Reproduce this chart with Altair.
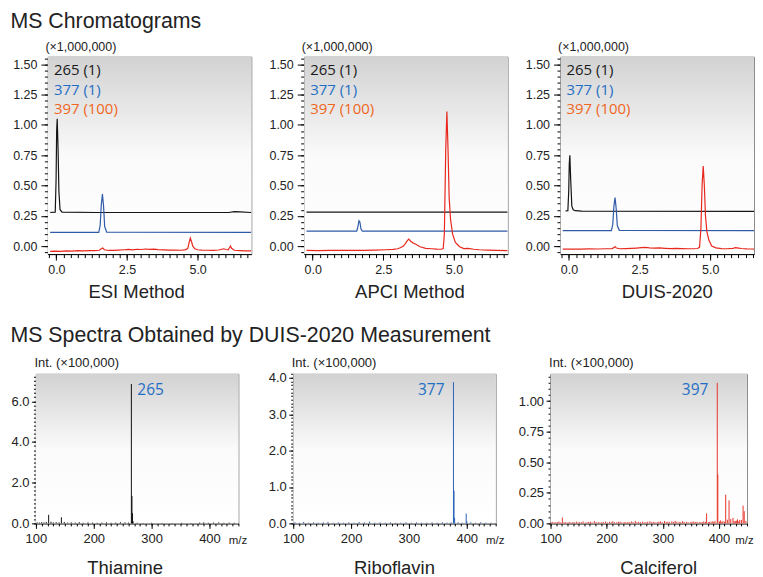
import altair as alt
import pandas as pd

FONT = "Liberation Sans"
FONT2 = "Open Sans"

# ---------------- MS chromatogram traces (time [min], intensity x1,000,000) ----------------
esi_265_t = [-0.22, -0.04, -0.01, 0.01, 0.03, 0.06, 0.09, 0.13, 0.2, 1.4, 6.1, 6.3, 6.5, 6.9]
esi_265_v = [0.277, 0.28, 0.55, 0.95, 1.05, 0.8, 0.45, 0.3, 0.28, 0.277, 0.277, 0.285, 0.283, 0.277]
esi_377_t = [-0.22, 1.5, 1.55, 1.59, 1.63, 1.67, 1.71, 1.78, 6.9]
esi_377_v = [0.113, 0.114, 0.17, 0.34, 0.43, 0.33, 0.16, 0.116, 0.113]
esi_397_t = [-0.22, -0.05, 0.15, 0.35, 0.55, 0.75, 0.95, 1.15, 1.35, 1.52, 1.6, 1.64, 1.7, 1.85,
             2.0, 2.2, 2.4, 2.55, 2.7, 2.85, 3.0, 3.15, 3.3, 3.45, 3.6, 3.8, 4.0, 4.2, 4.4, 4.55,
             4.65, 4.7, 4.74, 4.78, 4.83, 4.9, 5.0, 5.15, 5.35, 5.55, 5.75, 5.85, 5.92, 6.0, 6.08,
             6.13, 6.16, 6.2, 6.3, 6.5, 6.7, 6.9]
esi_397_v = [-0.044, -0.042, -0.043, -0.040, -0.041, -0.038, -0.039, -0.037, -0.038, -0.034,
             -0.020, -0.016, -0.030, -0.036, -0.035, -0.033, -0.030, -0.027, -0.031, -0.026,
             -0.028, -0.024, -0.027, -0.025, -0.029, -0.031, -0.033, -0.032, -0.034, -0.031,
             -0.020, 0.03, 0.066, 0.04, 0.0, -0.022, -0.030, -0.033, -0.034, -0.036, -0.032,
             -0.026, -0.022, -0.028, -0.030, -0.012, 0.0, -0.018, -0.034, -0.037, -0.039, -0.040]

apci_265_t = [-0.22, 6.9]
apci_265_v = [0.28, 0.28]
apci_377_t = [-0.22, 1.56, 1.6, 1.64, 1.67, 1.71, 1.76, 6.9]
apci_377_v = [0.123, 0.123, 0.16, 0.21, 0.20, 0.14, 0.123, 0.123]
apci_397_t = [-0.22, 0.2, 0.6, 1.0, 1.4, 1.8, 2.2, 2.6, 2.85, 3.0, 3.1, 3.2, 3.28, 3.35, 3.4,
              3.47, 3.55, 3.65, 3.8, 4.0, 4.2, 4.4, 4.55, 4.62, 4.66, 4.71, 4.75, 4.79, 4.83,
              4.88, 4.95, 5.05, 5.2, 5.35, 5.5, 5.7, 5.9, 6.2, 6.5, 6.9]
apci_397_v = [-0.036, -0.037, -0.035, -0.036, -0.034, -0.035, -0.033, -0.030, -0.027, -0.022,
              -0.014, -0.002, 0.02, 0.045, 0.057, 0.04, 0.025, 0.015, -0.005, -0.018, -0.022,
              -0.025, -0.026, -0.02, 0.1, 0.8, 1.11, 0.8, 0.4, 0.22, 0.1, 0.03, -0.005, -0.02,
              -0.018, -0.026, -0.030, -0.033, -0.035, -0.037]

duis_265_t = [-0.12, -0.04, -0.01, 0.01, 0.03, 0.06, 0.1, 0.15, 0.22, 0.45, 6.9]
duis_265_v = [0.29, 0.292, 0.45, 0.68, 0.75, 0.55, 0.33, 0.3, 0.292, 0.288, 0.287]
duis_377_t = [-0.22, 1.5, 1.55, 1.59, 1.63, 1.67, 1.71, 1.78, 6.9]
duis_377_v = [0.127, 0.128, 0.18, 0.33, 0.40, 0.31, 0.17, 0.13, 0.127]
duis_397_t = [-0.22, 0.1, 0.4, 0.7, 1.0, 1.3, 1.52, 1.6, 1.63, 1.68, 1.8, 2.0, 2.2, 2.4, 2.55,
              2.7, 2.85, 3.0, 3.2, 3.4, 3.6, 3.8, 4.0, 4.2, 4.4, 4.55, 4.62, 4.67, 4.71, 4.75,
              4.79, 4.83, 4.88, 4.95, 5.05, 5.2, 5.4, 5.6, 5.8, 5.9, 6.0, 6.1, 6.3, 6.5, 6.9]
duis_397_v = [-0.025, -0.024, -0.025, -0.023, -0.024, -0.022, -0.021, -0.012, -0.004, -0.016,
              -0.022, -0.021, -0.019, -0.016, -0.013, -0.011, -0.014, -0.016, -0.015, -0.018,
              -0.020, -0.019, -0.021, -0.022, -0.022, -0.02, -0.01, 0.15, 0.5, 0.66, 0.5, 0.25,
              0.12, 0.05, 0.0, -0.015, -0.02, -0.022, -0.018, -0.013, -0.016, -0.02, -0.023,
              -0.024, -0.025]

series_names = ["265", "377", "397"]
legend_labels = ["265 (1)", "377 (1)", "397 (100)"]
chrom_titles = ["ESI Method", "APCI Method", "DUIS-2020"]

# ---------------- MS spectra (m/z, intensity x100,000) ----------------
thiamine_mz = [102, 106, 110, 114, 118, 122, 126, 130, 135, 140, 144, 149, 155, 161, 168, 175,
               182, 190, 198, 206, 214, 222, 230, 238, 246, 254, 260, 265, 266, 267, 268, 275,
               285, 300, 318, 335, 352, 368, 383, 390, 398, 407, 416, 425, 434, 443]
thiamine_int = [0.05, 0.04, 0.06, 0.05, 0.07, 0.42, 0.08, 0.05, 0.06, 0.05, 0.30, 0.07, 0.04,
                0.05, 0.04, 0.06, 0.03, 0.05, 0.04, 0.03, 0.04, 0.05, 0.03, 0.04, 0.06, 0.05,
                0.04, 6.85, 1.35, 0.50, 0.10, 0.03, 0.02, 0.03, 0.02, 0.02, 0.03, 0.02, 0.04,
                0.05, 0.03, 0.04, 0.05, 0.03, 0.04, 0.03]
riboflavin_mz = [103, 110, 118, 127, 135, 143, 152, 160, 169, 178, 187, 196, 205, 214, 223, 232,
                 241, 250, 259, 268, 277, 286, 295, 304, 313, 322, 331, 340, 349, 358, 366, 373,
                 377, 378, 379, 385, 392, 399, 400, 407, 415, 424, 433, 442]
riboflavin_int = [0.03, 0.02, 0.04, 0.02, 0.03, 0.02, 0.03, 0.04, 0.02, 0.03, 0.02, 0.03, 0.02,
                  0.04, 0.03, 0.05, 0.02, 0.03, 0.02, 0.03, 0.02, 0.02, 0.03, 0.02, 0.03, 0.02,
                  0.02, 0.03, 0.02, 0.03, 0.02, 0.03, 3.88, 0.90, 0.15, 0.03, 0.02, 0.27, 0.06,
                  0.03, 0.02, 0.03, 0.02, 0.02]
calciferol_mz = [101, 104, 107, 109, 112, 115, 118, 121, 124, 127,
                 130, 133, 136, 139, 142, 146, 149, 152, 155, 158,
                 162, 165, 168, 171, 174, 178, 181, 185, 188, 191,
                 194, 198, 201, 205, 208, 211, 214, 218, 221, 224,
                 227, 231, 234, 237, 240, 244, 247, 251, 254, 257,
                 260, 264, 267, 270, 273, 277, 280, 283, 286, 290,
                 293, 296, 299, 303, 306, 309, 312, 316, 319, 322,
                 325, 329, 332, 335, 338, 342, 345, 349, 352, 355,
                 358, 361, 365, 368, 371, 373, 376, 378, 381, 383,
                 386, 389, 391, 393, 397, 398, 401, 403, 405, 407,
                 410, 412, 415, 418, 421, 425, 427, 429, 431, 433,
                 435, 437, 440, 443, 445, 448]
calciferol_int = [0.010, 0.012, 0.006, 0.008, 0.011, 0.015, 0.007, 0.048, 0.009, 0.010,
                  0.006, 0.012, 0.008, 0.008, 0.011, 0.014, 0.007, 0.010, 0.009, 0.016,
                  0.006, 0.009, 0.012, 0.013, 0.008, 0.020, 0.010, 0.011, 0.007, 0.009,
                  0.012, 0.015, 0.008, 0.012, 0.010, 0.018, 0.009, 0.010, 0.013, 0.014,
                  0.008, 0.011, 0.010, 0.009, 0.012, 0.016, 0.011, 0.020, 0.009, 0.012,
                  0.010, 0.015, 0.008, 0.010, 0.013, 0.018, 0.009, 0.013, 0.010, 0.011,
                  0.014, 0.016, 0.009, 0.019, 0.012, 0.014, 0.010, 0.017, 0.011, 0.021,
                  0.013, 0.013, 0.010, 0.018, 0.012, 0.012, 0.009, 0.010, 0.014, 0.015,
                  0.011, 0.013, 0.010, 0.011, 0.009, 0.016, 0.012, 0.082, 0.010, 0.012,
                  0.014, 0.017, 0.011, 0.020, 1.15, 0.40, 0.015, 0.025, 0.012, 0.018,
                  0.014, 0.235, 0.030, 0.188, 0.035, 0.045, 0.018, 0.020, 0.022, 0.033,
                  0.015, 0.028, 0.028, 0.145, 0.100, 0.020]
peak_labels = ["265", "377", "397"]
peak_mz = [265, 377, 397]
spectra_titles = ["Thiamine", "Riboflavin", "Calciferol"]

# ---------------- styling ----------------
LINE_COLORS = ["#151515", "#2f5aa8", "#e8281e"]
TEXT_COLORS = ["#1a1a1a", "#1f6fc5", "#f0661c"]
GRAD = alt.LinearGradient(gradient="linear", x1=0, x2=0, y1=0, y2=1,
                          stops=[alt.GradientStop(offset=0, color="#d2d2d2"),
                                 alt.GradientStop(offset=0.5, color="#fafafa"),
                                 alt.GradientStop(offset=1, color="#ffffff")])
LAB = dict(labelFont=FONT, labelColor="#222", domainColor="#000", tickColor="#000", grid=False)
TTL = dict(titleFont=FONT, titleFontWeight="normal", titleColor="#222")


def major_axis(orient, values, fmt, tick, pad, size, **kw):
    return alt.Axis(orient=orient, values=values, format=fmt, tickSize=tick, labelPadding=pad,
                    labelFontSize=size, labelOverlap=False, labelFlush=False, **LAB, **kw)


def minor_axis(orient, values, tick):
    return alt.Axis(orient=orient, values=values, tickSize=tick, labels=False, domain=False,
                    title=None, tickColor="#000", grid=False)


CH_W, CH_H = 204, 198
Y0, Y1 = -0.066, 1.563
CX_MAJ = [0.0, 2.5, 5.0]
CX_MIN = [round(-0.25 + 0.25 * i, 2) for i in range(29)]
CY_MAJ = [0.0, 0.25, 0.5, 0.75, 1.0, 1.25, 1.5]
CY_MIN = [round(-0.05 + 0.05 * i, 2) for i in range(33)]
ONE = pd.DataFrame({"k": [0]})


def chrom_panel(traces, title, tdx, width=CH_W):
    x1 = -0.3 + width / 28.33
    xs = alt.Scale(domain=[-0.3, x1], nice=False, zero=False)
    ys = alt.Scale(domain=[Y0, Y1], nice=False, zero=False)
    xa = major_axis("bottom", CX_MAJ, ".1f", 6, 3, 12.5, title=None)
    ya = major_axis("left", CY_MAJ, ".2f", 7, 4, 12.5, title="(\u00d71,000,000)", titleAngle=0,
                    titleAlign="left", titleBaseline="alphabetic", titleX=-3, titleY=-6,
                    titleFontSize=12.5, **TTL)
    frames = []
    for name, (t, v) in zip(series_names, traces):
        frames.append(pd.DataFrame({"t": t, "v": v, "s": name, "o": range(len(t))}))
    df = pd.concat(frames, ignore_index=True)
    bg = alt.Chart(ONE).mark_rect(color=GRAD).encode(
        x=alt.XDatum(-0.3, scale=xs, axis=xa), x2=alt.X2Datum(x1),
        y=alt.YDatum(Y1, scale=ys, axis=ya), y2=alt.Y2Datum(Y0))
    lines = alt.Chart(df).mark_line(strokeWidth=1.2, clip=True).encode(
        x=alt.X("t:Q", scale=xs, axis=minor_axis("bottom", CX_MIN, 3.5)),
        y=alt.Y("v:Q", scale=ys, axis=minor_axis("left", CY_MIN, 3.5)),
        color=alt.Color("s:N", scale=alt.Scale(domain=series_names, range=LINE_COLORS), legend=None),
        detail="s:N", order="o:Q")
    texts = []
    for i, lab in enumerate(legend_labels):
        texts.append(alt.Chart(ONE).mark_text(text=lab, align="left", baseline="middle",
                                              fontSize=15, font=FONT2, fontWeight=500,
                                              color=TEXT_COLORS[i]).encode(
            x=alt.value(6), y=alt.value(13.5 + 19.6 * i)))
    return alt.layer(bg, lines, *texts).resolve_axis(x="independent", y="independent").properties(
        width=width, height=CH_H,
        title=alt.TitleParams(title, orient="bottom", anchor="middle", fontSize=18.5, font=FONT,
                              fontWeight="normal", color="#222", offset=8, dx=tdx))


SP_H = 150
SX_MAJ = [100, 200, 300, 400]
SX_MIN = [100 + 10 * i for i in range(36)]


def spectrum_panel(mz, inten, color, ymax, ymaj, ymin, yfmt, label, lmz, align, ldx, title, tdx,
                   width=203, mzx=None):
    if mzx is None:
        mzx = width - 1
    xs = alt.Scale(domain=[100, 450], nice=False, zero=False)
    ys = alt.Scale(domain=[0, ymax], nice=False, zero=False)
    xa = major_axis("bottom", SX_MAJ, "d", 5, 4, 13, title="m/z", titleX=mzx, titleY=17,
                    titleAlign="center", titleBaseline="middle", titleFontSize=11.5, **TTL)
    ya = major_axis("left", ymaj, yfmt, 4.5, 2.5, 13, title="Int. (\u00d7100,000)", titleAngle=0,
                    titleAlign="left", titleBaseline="alphabetic", titleX=-2, titleY=-7,
                    titleFontSize=13, **TTL)
    df = pd.DataFrame({"mz": mz, "i": inten})
    bg = alt.Chart(ONE).mark_rect(color=GRAD).encode(
        x=alt.XDatum(100, scale=xs, axis=xa), x2=alt.X2Datum(450),
        y=alt.YDatum(ymax, scale=ys, axis=ya), y2=alt.Y2Datum(0))
    stems = alt.Chart(df).mark_rule(color=color, strokeWidth=1).encode(
        x=alt.X("mz:Q", scale=xs, axis=minor_axis("bottom", SX_MIN, 2.5)),
        y=alt.Y("i:Q", scale=ys, axis=minor_axis("left", ymin, 2.5)),
        y2=alt.Y2Datum(0))
    lab = alt.Chart(pd.DataFrame({"mz": [lmz], "lab": [label]})).mark_text(
        align=align, baseline="middle", dx=ldx, fontSize=15.5, font=FONT2, fontWeight=500,
        color="#1f6fc5").encode(
        x=alt.X("mz:Q", scale=xs, axis=None), y=alt.value(16), text="lab:N")
    return alt.layer(bg, stems, lab).resolve_axis(x="independent", y="independent").properties(
        width=width, height=SP_H,
        title=alt.TitleParams(title, orient="bottom", anchor="middle", fontSize=18.5, font=FONT,
                              fontWeight="normal", color="#222", offset=13, dx=tdx))


p1 = chrom_panel([(esi_265_t, esi_265_v), (esi_377_t, esi_377_v), (esi_397_t, esi_397_v)],
                 chrom_titles[0], -13)
p2 = chrom_panel([(apci_265_t, apci_265_v), (apci_377_t, apci_377_v), (apci_397_t, apci_397_v)],
                 chrom_titles[1], 4)
p3 = chrom_panel([(duis_265_t, duis_265_v), (duis_377_t, duis_377_v), (duis_397_t, duis_397_v)],
                 chrom_titles[2], 10, width=194)

s1 = spectrum_panel(thiamine_mz, thiamine_int, "#111111", 7.35, [0.0, 2.0, 4.0, 6.0],
                    [round(0.2 * i, 1) for i in range(37)], ".1f",
                    peak_labels[0], peak_mz[0], "left", 6, spectra_titles[0], -12)
s2 = spectrum_panel(riboflavin_mz, riboflavin_int, "#2a62b8", 4.11, [0.0, 1.0, 2.0, 3.0, 4.0],
                    [round(0.1 * i, 1) for i in range(42)], ".1f",
                    peak_labels[1], peak_mz[1], "right", -9, spectra_titles[1], 0)
s3 = spectrum_panel(calciferol_mz, calciferol_int, "#e8342a", 1.224,
                    [0.0, 0.25, 0.5, 0.75, 1.0],
                    [round(0.05 * i, 2) for i in range(25)], ".2f",
                    peak_labels[2], peak_mz[2], "right", -9, spectra_titles[2], 10,
                    width=197, mzx=194)

dummy = alt.Chart(ONE).mark_point(opacity=0, size=1).encode(
    x=alt.value(0), y=alt.value(0)).properties(width=1, height=1,
                                               view=alt.ViewBackground(stroke="transparent"))

chrom_inner = alt.hconcat(p1, p2, p3, spacing=53, bounds="flush")
chrom_row = alt.hconcat(dummy, chrom_inner, spacing=11, bounds="flush")
spectra_row = alt.hconcat(s1, s2, s3, spacing=55, bounds="flush").properties(
    title=alt.TitleParams("MS Spectra Obtained by DUIS-2020 Measurement", anchor="start",
                          fontSize=21.4, font=FONT, fontWeight="normal", color="#222", offset=10))

chart = alt.vconcat(chrom_row, spectra_row, spacing=22).properties(
    title=alt.TitleParams("MS Chromatograms", anchor="start", fontSize=21.4, font=FONT,
                          fontWeight="normal", color="#222", offset=8),
    padding={"left": 2, "top": 2, "right": 0, "bottom": 0},
).configure_view(stroke="#8c8c8c", strokeWidth=1).configure_axis(domainWidth=1, tickWidth=1)

chart.save("out.html", embed_options={"renderer": "svg", "actions": False})
